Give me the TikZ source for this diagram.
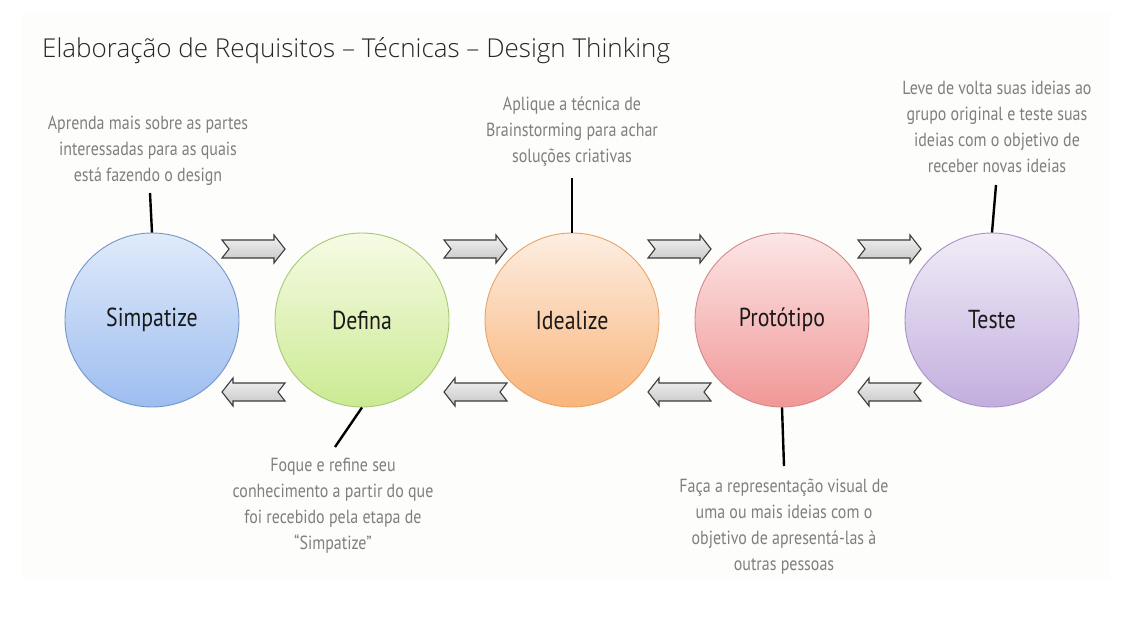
\documentclass[tikz,border=0pt]{standalone}
\usepackage{fontspec}
\setmainfont{PT Sans}
\newfontfamily\narrowfont{PT Sans}[FakeStretch=0.84]
\newfontfamily\titlefont{Open Sans}[UprightFont=* Light]
\usetikzlibrary{calc}

\definecolor{panel}{HTML}{FDFDFB}
\definecolor{notegray}{HTML}{7F7F7F}
\definecolor{arrowedge}{HTML}{3C3C3C}
% stage palettes: top, bottom, edge
\definecolor{simpT}{HTML}{E0EAFA}\definecolor{simpB}{HTML}{9DBDF0}\definecolor{simpE}{HTML}{7397C8}
\definecolor{defiT}{HTML}{F6FBE4}\definecolor{defiB}{HTML}{CBEA92}\definecolor{defiE}{HTML}{A6C976}
\definecolor{ideaT}{HTML}{FDEEE2}\definecolor{ideaB}{HTML}{F9B47A}\definecolor{ideaE}{HTML}{E8A468}
\definecolor{protT}{HTML}{FCE6E6}\definecolor{protB}{HTML}{F19797}\definecolor{protE}{HTML}{D38989}
\definecolor{testT}{HTML}{F1ECF7}\definecolor{testB}{HTML}{C2AEDE}\definecolor{testE}{HTML}{A793C9}

\tikzset{
  stage/.style={circle, minimum size=174pt, inner sep=0pt, line width=0.9pt,
    font=\narrowfont\fontsize{26}{30}\selectfont, text=black!90},
  note/.style={align=center, text=notegray,
    font=\narrowfont\fontsize{19}{26}\selectfont, inner sep=0pt},
  leader/.style={line width=2.4pt, black},
  flowarrow/.style={draw=arrowedge, line width=1.1pt, line join=miter,
    top color=gray!10, bottom color=gray!45},
  pics/rarrow/.style={code={
    \path[flowarrow] (0,-9) -- (52,-9) -- (52,-14) -- (63,0) -- (52,14)
      -- (52,9) -- (0,9) -- (7,0) -- cycle;}},
  pics/larrow/.style={code={
    \path[flowarrow] (63,-9) -- (11,-9) -- (11,-14) -- (0,0) -- (11,14)
      -- (11,9) -- (63,9) -- (56,0) -- cycle;}},
}

\begin{document}
\begin{tikzpicture}[x=1pt, y=-1pt]
  \useasboundingbox (0,0) rectangle (1145,624);
  \fill[white] (0,0) rectangle (1145,624);
  \fill[panel] (22,12) rectangle (1110,579);

  % title
  \node[anchor=base west, inner sep=0pt, text=black!85,
    font=\titlefont\fontsize{26}{30}\selectfont] (title) at (42,57)
    {Elaboração de Requisitos – Técnicas – Design Thinking};

  % the five stages
  \node[stage, draw=simpE, top color=simpT, bottom color=simpB] (simp) at (152,320) {Simpatize};
  \node[stage, draw=defiE, top color=defiT, bottom color=defiB] (defi) at (362,320) {Defina};
  \node[stage, draw=ideaE, top color=ideaT, bottom color=ideaB] (idea) at (572,320) {Idealize};
  \node[stage, draw=protE, top color=protT, bottom color=protB] (prot) at (782,320) {Protótipo};
  \node[stage, draw=testE, top color=testT, bottom color=testB] (test) at (992,320) {Teste};

  % forward and backward arrows
  \pic at (222,249) {rarrow};
  \pic at (444,249) {rarrow};
  \pic at (648,249) {rarrow};
  \pic at (858,249) {rarrow};
  \pic at (222,392) {larrow};
  \pic at (444,392) {larrow};
  \pic at (648,392) {larrow};
  \pic at (858,392) {larrow};

  % notes
  \node[note] (nsimp) at (148,151)
    {Aprenda mais sobre as partes\\interessadas para as quais\\está fazendo o design};
  \node[note] (nidea) at (572,132)
    {Aplique a técnica de\\Brainstorming para achar\\soluções criativas};
  \node[note] (ntest) at (997,127)
    {Leve de volta suas ideias ao\\grupo original e teste suas\\ideias com o objetivo de\\receber novas ideias};
  \node[note] (ndefi) at (333,506)
    {Foque e refine seu\\conhecimento a partir do que\\foi recebido pela etapa de\\“Simpatize”};
  \node[note] (nprot) at (784,527)
    {Faça a representação visual de\\uma ou mais ideias com o\\objetivo de apresentá-las à\\outras pessoas};

  % leader lines
  \coordinate (lsimp) at (150,193);
  \coordinate (lidea) at (572,178);
  \coordinate (ltest) at (996,185);
  \coordinate (ldefi) at (335,447);
  \coordinate (lprot) at (784,466);
  \draw[leader] (lsimp) -- (simp.north);
  \draw[leader] (lidea) -- (idea.north);
  \draw[leader] (ltest) -- (test.north);
  \draw[leader] (defi.south) -- (ldefi);
  \draw[leader] (prot.south) -- (lprot);
\end{tikzpicture}
\end{document}
